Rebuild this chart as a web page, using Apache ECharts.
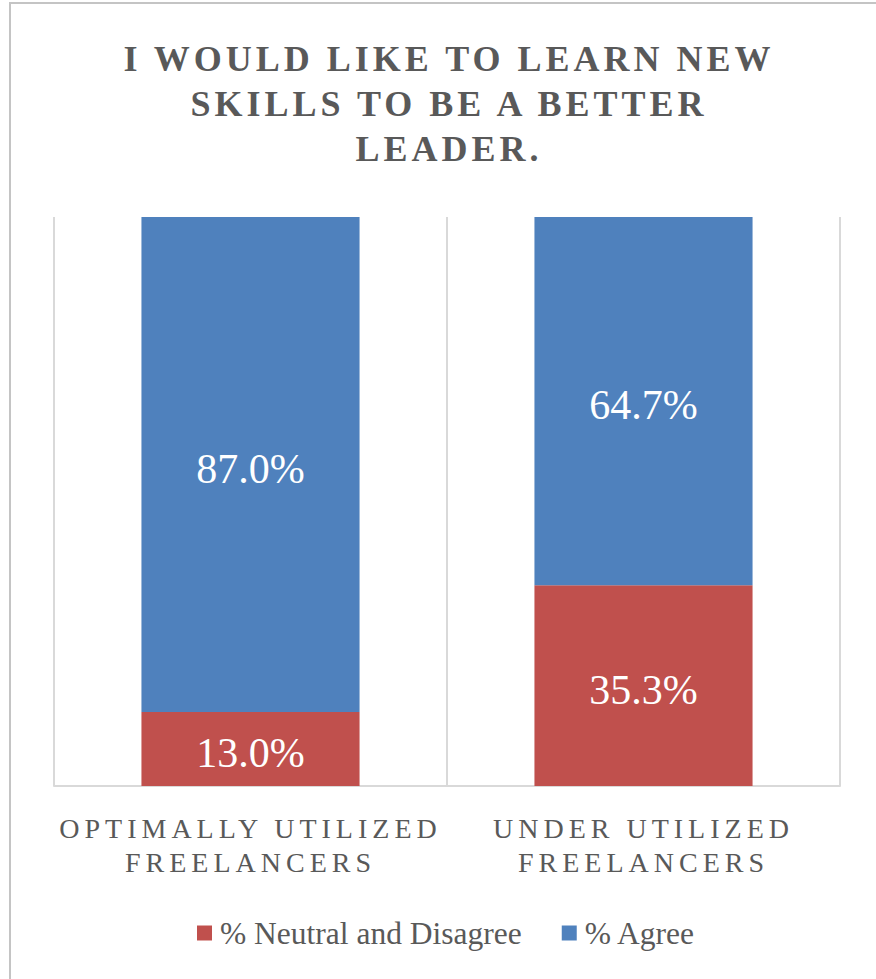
<!DOCTYPE html>
<html>
<head>
<meta charset="utf-8">
<script src="https://cdn.jsdelivr.net/npm/echarts@6/dist/echarts.min.js"></script>
<style>
  html, body { margin: 0; padding: 0; background: #ffffff; }
  #chart { width: 876px; height: 979px; }
</style>
</head>
<body>
<div id="chart"></div>
<script>
// Survey answers per freelancer group (percent of respondents)
const categories = ['OPTIMALLY UTILIZED\nFREELANCERS', 'UNDER UTILIZED\nFREELANCERS'];
const neutralDisagree = [13.0, 35.3];
const agree = [87.0, 64.7];
const seriesNames = ['% Neutral and Disagree', '% Agree'];
const titleText = 'I WOULD LIKE TO LEARN NEW\nSKILLS TO BE A BETTER\nLEADER.';

const SERIF = '"Liberation Serif", "DejaVu Serif", serif';
const TEXT_GREY = '#595959';
const GRID_GREY = '#d9d9d9';

const chart = echarts.init(document.getElementById('chart'), null, { renderer: 'svg' });

const pctLabel = {
  show: true,
  position: 'inside',
  offset: [0, 4],
  color: '#ffffff',
  fontFamily: SERIF,
  fontSize: 42,
  formatter: p => p.value.toFixed(1) + '%'
};

chart.setOption({
  animation: false,
  backgroundColor: '#ffffff',
  title: {
    text: titleText,
    left: 444,
    textAlign: 'center',
    top: 31,
    textStyle: {
      fontFamily: SERIF,
      fontWeight: 'bold',
      fontSize: 36,
      lineHeight: 45,
      color: TEXT_GREY
    }
  },
  graphic: [{
    type: 'polyline',
    shape: { points: [[10, 979], [10, 3], [876, 3]] },
    style: { stroke: '#c4c4c4', lineWidth: 2, fill: null },
    silent: true
  }],
  legend: {
    data: seriesNames,
    bottom: 25,
    left: 192,
    icon: 'rect',
    itemWidth: 15,
    itemHeight: 15,
    itemGap: 40,
    textStyle: { fontFamily: SERIF, fontSize: 31.5, color: TEXT_GREY, padding: [0, 0, 0, 3] }
  },
  grid: { left: 54, right: 36, top: 217, bottom: 193 },
  xAxis: {
    type: 'category',
    data: categories,
    axisLine: { show: true, lineStyle: { color: GRID_GREY, width: 2 } },
    axisTick: { show: false },
    splitLine: { show: true, lineStyle: { color: GRID_GREY, width: 2 } },
    axisLabel: {
      margin: 25,
      fontFamily: SERIF,
      fontSize: 28,
      lineHeight: 34,
      color: TEXT_GREY
    }
  },
  yAxis: {
    type: 'value',
    min: 0,
    max: 100,
    show: false,
    splitLine: { show: false }
  },
  series: [
    {
      name: seriesNames[0],
      type: 'bar',
      stack: 'total',
      data: neutralDisagree,
      barWidth: '55.5%',
      itemStyle: { color: '#c0504d' },
      label: pctLabel
    },
    {
      name: seriesNames[1],
      type: 'bar',
      stack: 'total',
      data: agree,
      barWidth: '55.5%',
      itemStyle: { color: '#4f81bd' },
      label: pctLabel
    }
  ]
});

// Tracked capitals for the heading and the category names
const spaced = {};
titleText.split('\n').forEach(t => { spaced[t] = '4px'; });
categories.forEach(c => c.split('\n').forEach(t => { spaced[t] = '5px'; }));
function applySpacing() {
  document.querySelectorAll('#chart svg text').forEach(el => {
    const s = spaced[el.textContent];
    if (s) el.style.letterSpacing = s;
  });
}
applySpacing();
chart.on('finished', applySpacing);
</script>
</body>
</html>
